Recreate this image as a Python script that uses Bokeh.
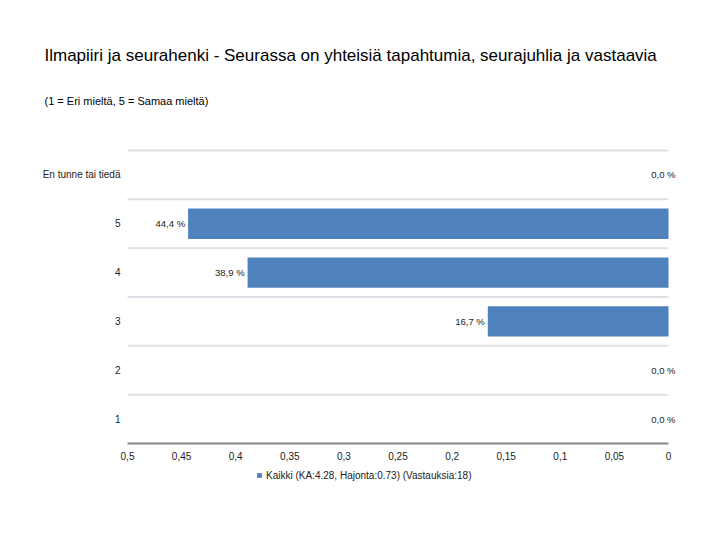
from bokeh.plotting import figure
from bokeh.models import (Range1d, FixedTicker, CustomJSTickFormatter, LinearAxis,
                          ColumnDataSource, Label, Legend, LegendItem)
from bokeh.embed import file_html
from bokeh.resources import INLINE

title_text = "Ilmapiiri ja seurahenki - Seurassa on yhteisiä tapahtumia, seurajuhlia ja vastaavia"
subtitle_text = "(1 = Eri mieltä, 5 = Samaa mieltä)"
categories = ["En tunne tai tiedä", "5", "4", "3", "2", "1"]   # top to bottom
shares = [0.0, 0.444, 0.389, 0.167, 0.0, 0.0]
x_ticks = [0.5, 0.45, 0.4, 0.35, 0.3, 0.25, 0.2, 0.15, 0.1, 0.05, 0.0]
x_tick_labels = ["0,5", "0,45", "0,4", "0,35", "0,3", "0,25", "0,2", "0,15", "0,1", "0,05", "0"]
series_name = "Kaikki (KA:4.28, Hajonta:0.73) (Vastauksia:18)"

FONT = "Liberation Sans"
BAR = "#4f81bd"
W, H = 712, 532

# plotting area in canvas pixels (the frame covers the whole canvas so that
# titles, legend and labels are never clipped)
AREA_L, AREA_R, AREA_T, AREA_B = 127, 668, 150, 443
X_MAX, X_MIN = 0.5, 0.0
n = len(categories)
pos = [n - 1 - i for i in range(n)]            # category slot index, top to bottom
px_x = (AREA_R - AREA_L) / (X_MAX - X_MIN)
px_y = (AREA_B - AREA_T) / n
x_range = Range1d(X_MAX + AREA_L / px_x, X_MIN - (W - AREA_R) / px_x)
y_range = Range1d(-0.5 - (H - AREA_B) / px_y, n - 0.5 + AREA_T / px_y)

p = figure(width=W, height=H, x_range=x_range, y_range=y_range,
           output_backend="svg", toolbar_location=None, min_border=0,
           x_axis_location=None, y_axis_location=None)
p.outline_line_color = None
p.grid.visible = False

xaxis = LinearAxis(fixed_location=-0.5, bounds=(X_MIN, X_MAX),
                   ticker=FixedTicker(ticks=x_ticks))
yaxis = LinearAxis(fixed_location=X_MAX, bounds=(-0.5, n - 0.5),
                   ticker=FixedTicker(ticks=pos))
p.add_layout(xaxis, "below")
p.add_layout(yaxis, "left")

# grid lines on category boundaries
p.segment(x0=X_MAX, x1=X_MIN, y0=[q + 0.5 for q in pos], y1=[q + 0.5 for q in pos],
          line_color="#dce1e7", line_width=2)

src = ColumnDataSource(dict(
    pos=pos, cat=categories, share=shares,
    label=[f"{v * 100:.1f} %".replace(".", ",") for v in shares],
    off=[-3 if v > 0 else 7 for v in shares],
))
bars = p.hbar(y="pos", left=0, right="share", height=0.62, fill_color=BAR,
              line_color=None, source=src)
p.text(x="share", y="pos", text="label", x_offset="off", source=src,
       text_align="right", text_baseline="middle", text_font_size="9.5px",
       text_color="#222222", text_font={"value": FONT})

# axes styling
xaxis.formatter = CustomJSTickFormatter(args=dict(t=x_ticks, l=x_tick_labels), code="""
    for (let i = 0; i < t.length; i++) { if (Math.abs(t[i] - tick) < 1e-9) return l[i]; }
    return '';
""")
xaxis.major_tick_line_color = None
xaxis.minor_tick_line_color = None
xaxis.major_tick_out = 0
xaxis.axis_line_color = "#868686"
xaxis.axis_line_width = 2
xaxis.major_label_standoff = 8
xaxis.major_label_text_font = FONT
xaxis.major_label_text_font_size = "10px"
xaxis.major_label_text_color = "#222222"

yaxis.formatter = CustomJSTickFormatter(args=dict(t=pos, l=categories), code="""
    for (let i = 0; i < t.length; i++) { if (Math.abs(t[i] - tick) < 1e-9) return l[i]; }
    return '';
""")
yaxis.major_tick_line_color = None
yaxis.minor_tick_line_color = None
yaxis.axis_line_color = None
yaxis.major_tick_out = 0
yaxis.major_label_standoff = 7
yaxis.major_label_text_font = FONT
yaxis.major_label_text_font_size = "10px"
yaxis.major_label_text_color = "#222222"

# titles (screen units: pixels from the frame's bottom-left corner)
p.add_layout(Label(x=44, y=H - 55, x_units="screen", y_units="screen",
                   text=title_text, text_font=FONT, text_font_size="17px",
                   text_baseline="middle", text_color="#000000"))
p.add_layout(Label(x=44, y=H - 100, x_units="screen", y_units="screen",
                   text=subtitle_text, text_font=FONT, text_font_size="11px",
                   text_baseline="middle", text_color="#000000"))

legend = Legend(items=[LegendItem(label=series_name, renderers=[bars])],
                orientation="horizontal", location=(256, H - 475 - 6),
                glyph_width=6, glyph_height=6, label_height=12, label_text_font=FONT,
                label_text_font_size="10px", label_text_color="#222222",
                padding=0, margin=0, spacing=0, label_standoff=4,
                border_line_color=None, background_fill_alpha=0)
p.add_layout(legend, "center")

open("out.html", "w").write(file_html(p, INLINE))
